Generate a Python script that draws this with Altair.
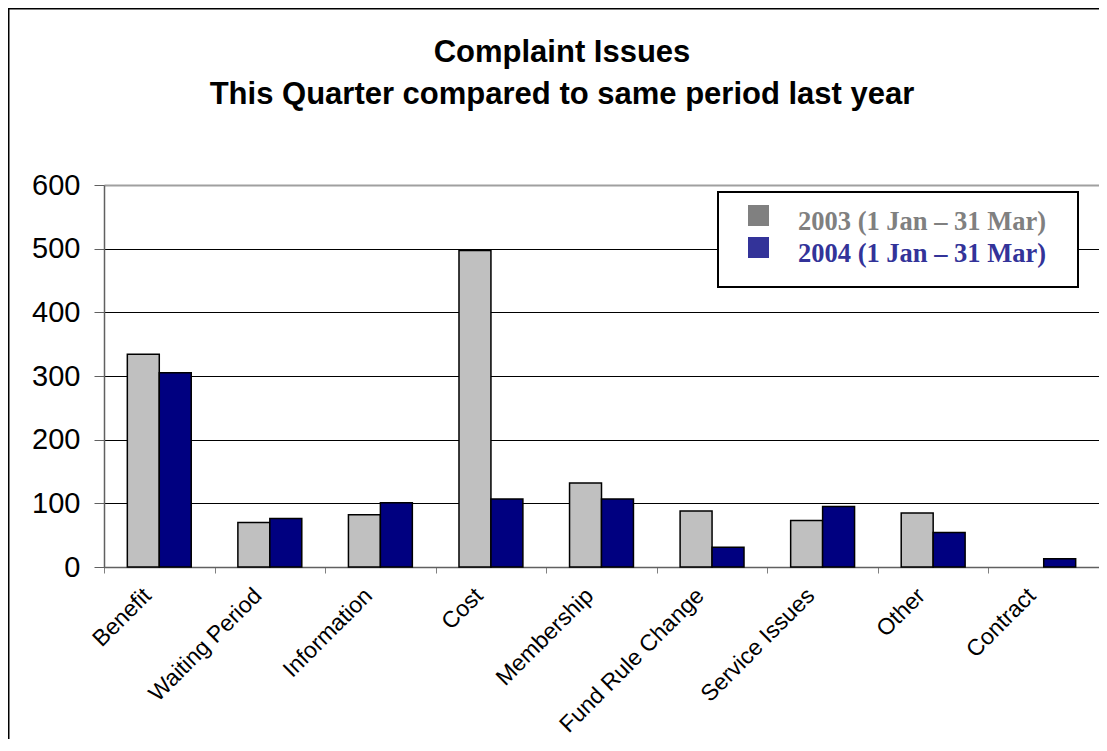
import altair as alt
import pandas as pd

categories = ["Benefit", "Waiting Period", "Information", "Cost", "Membership",
              "Fund Rule Change", "Service Issues", "Other", "Contract"]
series_names = ["2003 (1 Jan – 31 Mar)", "2004 (1 Jan – 31 Mar)"]
values_2003 = [334, 70, 82, 497, 132, 88, 73, 85, 0]
values_2004 = [305, 76, 101, 107, 107, 31, 95, 54, 13]
y_ticks = [0, 100, 200, 300, 400, 500, 600]
title_line1 = "Complaint Issues"
title_line2 = "This Quarter compared to same period last year"
bar_colors = ["#C0C0C0", "#000080"]
legend_colors = ["#808080", "#333399"]

rows = []
for c, a, b in zip(categories, values_2003, values_2004):
    rows.append({"category": c, "period": series_names[0], "count": a})
    rows.append({"category": c, "period": series_names[1], "count": b})
df = pd.DataFrame(rows)

W, H = 995, 382
PL, PT, PB = 96, 177, 172

one = pd.DataFrame({"k": [0]})

frame = alt.Chart(one).mark_rect(
    fillOpacity=0, stroke="black", strokeWidth=1.5
).encode(
    x=alt.value(-95.25), x2=alt.value(W + 100),
    y=alt.value(-176.25), y2=alt.value(H + 400)
)

legend_box = alt.Chart(one).mark_rect(
    fill="white", stroke="black", strokeWidth=2
).encode(
    x=alt.value(614), x2=alt.value(974),
    y=alt.value(7), y2=alt.value(102)
)

# legend entries (swatch + label) drawn inside the legend box
legend_layers = []
for i, (name, col) in enumerate(zip(series_names, legend_colors)):
    d = pd.DataFrame({"series": [name]})
    sw = alt.Chart(d).mark_square(size=441, color=col, opacity=1).encode(
        x=alt.value(654.5), y=alt.value(30.5 + 32 * i)
    )
    tx = alt.Chart(d).mark_text(
        font="Liberation Serif", fontSize=26.5, fontWeight="bold", color=col,
        align="left", baseline="alphabetic"
    ).encode(text="series:N", x=alt.value(694), y=alt.value(45 + 32 * i))
    legend_layers += [sw, tx]

title_style = dict(font="Liberation Sans", fontSize=31, fontWeight="bold",
                   color="black", align="center", baseline="alphabetic")
t1 = alt.Chart(pd.DataFrame({"t": [title_line1]})).mark_text(**title_style).encode(
    text="t:N", x=alt.value(458), y=alt.value(-123)
)
t2 = alt.Chart(pd.DataFrame({"t": [title_line2]})).mark_text(**title_style).encode(
    text="t:N", x=alt.value(458), y=alt.value(-81)
)

x_enc = alt.X(
    "category:N", sort=categories,
    scale=alt.Scale(paddingInner=0, paddingOuter=0),
    axis=alt.Axis(
        title=None, labelAngle=-45, labelFontSize=23, labelFont="Liberation Sans",
        labelColor="black", labelPadding=11, labelOffset=-20, labelLimit=400,
        tickBand="extent", tickSize=6, tickColor="#808080",
        domainColor="#606060", domainWidth=1.5, grid=False,
    ),
)
xoff_enc = alt.XOffset(
    "period:N", sort=series_names,
    scale=alt.Scale(paddingInner=0, paddingOuter=0.73),
)
y_enc = alt.Y(
    "count:Q", scale=alt.Scale(domain=[0, 600], nice=False),
    axis=alt.Axis(
        values=y_ticks, title=None, labelFontSize=29, labelFont="Liberation Sans",
        labelColor="black", labelPadding=14, tickSize=10, tickColor="#606060",
        domainColor="#606060", domainWidth=1.5, grid=True,
        gridColor={"condition": {"test": "datum.value == 600", "value": "#a0a0a0"}, "value": "black"},
        gridWidth={"condition": {"test": "datum.value == 600", "value": 2}, "value": 1},
    ),
)

bars = alt.Chart(df).mark_bar(stroke="black", strokeWidth=1.5).encode(
    x=x_enc, xOffset=xoff_enc, y=y_enc,
    fill=alt.Fill("period:N", scale=alt.Scale(domain=series_names, range=bar_colors), legend=None),
    strokeOpacity=alt.condition("datum.count == 0", alt.value(0), alt.value(1)),
)

chart = alt.layer(frame, bars, legend_box, *legend_layers, t1, t2).properties(
    width=W, height=H,
    autosize=alt.AutoSizeParams(type="none"),
    padding={"left": PL, "top": PT, "right": 0, "bottom": PB},
).configure_view(stroke=None).configure(background="white")

chart.save("out.html", embed_options={"renderer": "svg", "actions": False})
